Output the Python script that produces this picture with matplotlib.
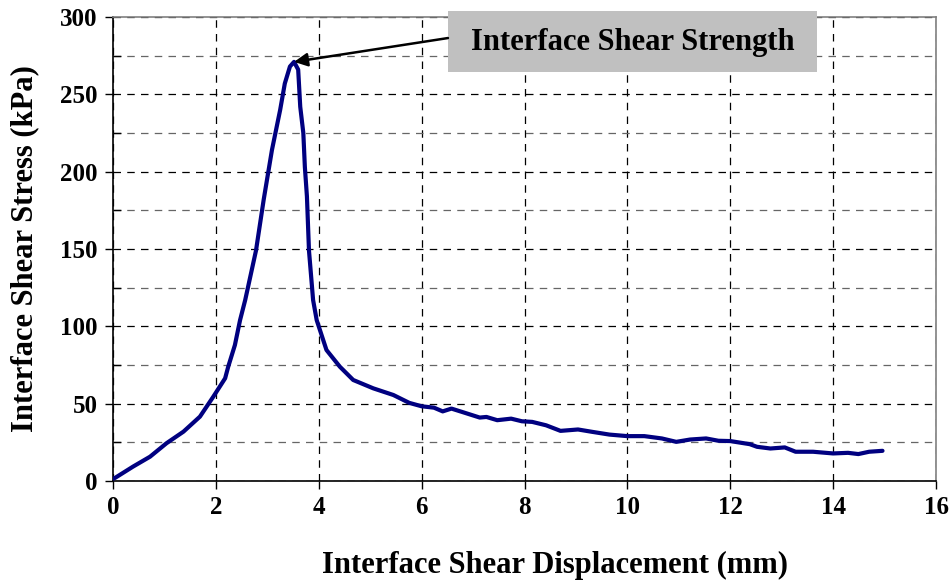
import numpy as np
import matplotlib.pyplot as plt
from matplotlib.patches import Rectangle
from matplotlib.ticker import MultipleLocator

# interface shear test: displacement (mm) vs shear stress (kPa)
disp = [0.0, 0.04, 0.39, 0.72, 1.04, 1.37, 1.69, 1.95, 2.18, 2.24, 2.37,
        2.47, 2.57, 2.78, 2.93, 3.09, 3.25, 3.34, 3.44, 3.52, 3.60, 3.64,
        3.70, 3.73, 3.77, 3.81, 3.89, 3.96, 4.15, 4.41, 4.67, 5.06, 5.45,
        5.76, 6.0, 6.24, 6.41, 6.58, 6.79, 7.13, 7.26, 7.47, 7.74, 7.95,
        8.15, 8.42, 8.70, 9.04, 9.31, 9.65, 10.0, 10.33, 10.67, 10.95,
        11.22, 11.53, 11.77, 12.0, 12.38, 12.52, 12.78, 13.06, 13.27,
        13.61, 14.0, 14.29, 14.49, 14.7, 14.96]
stress = [1.5, 2, 9.3, 15.7, 24.4, 31.9, 41.6, 54.5, 66.4, 73.9, 87.9,
          104, 117, 149, 182, 214, 240, 257, 268, 271, 266, 242,
          225, 203, 184, 149, 117, 104, 84.7, 73.9, 65.3, 59.9, 55.6,
          50.5, 48.3, 47.4, 45, 46.8, 44.6, 41, 41.4, 39.3, 40.3, 38.6,
          38.2, 36, 32.4, 33.3, 31.8, 30, 29, 29, 27.5, 25.3,
          26.8, 27.5, 26, 25.8, 23.8, 22.1, 21, 21.7, 18.9,
          18.9, 17.8, 18.2, 17.4, 18.9, 19.5]
peak_label = "Interface Shear Strength"

plt.rcParams['font.family'] = 'Liberation Serif'
plt.rcParams['font.weight'] = 'bold'
plt.rcParams['axes.labelweight'] = 'bold'

fig = plt.figure(figsize=(9.52, 5.83), dpi=100)
ax = fig.add_axes([0.1187, 0.175, 0.8645, 0.7958])

ax.plot(disp, stress, color='#000080', lw=3, solid_capstyle='round', zorder=3)

ax.set_xlim(0, 16)
ax.set_ylim(0, 300)
ax.xaxis.set_major_locator(MultipleLocator(2))
ax.yaxis.set_major_locator(MultipleLocator(50))
ax.yaxis.set_minor_locator(MultipleLocator(25))
ax.tick_params(axis='both', which='major', direction='out', length=6,
               width=1, labelsize=18, pad=5)
ax.tick_params(axis='y', which='minor', direction='in', length=6, width=1)

ax.grid(True, which='major', color='black', ls=(0, (6, 5)), lw=0.9)
ax.grid(True, which='minor', axis='y', color='#666666', ls=(0, (6, 5)), lw=0.9)
ax.set_axisbelow(True)

for side in ('top', 'right'):
    ax.spines[side].set_color('#808080')
    ax.spines[side].set_linewidth(1.2)
ax.spines['left'].set_linewidth(1.2)
ax.spines['bottom'].set_linewidth(1.2)

ax.set_xlabel('Interface Shear Displacement (mm)', fontsize=22)
ax.set_ylabel('Interface Shear Stress (kPa)', fontsize=22)
ax.xaxis.set_label_coords(0.537, -0.151)
ax.yaxis.set_label_coords(-0.090, 0.502)

# grey callout box with an arrow to the peak of the curve
box = Rectangle((0.407, 0.8815), 0.4484, 0.1314, transform=ax.transAxes,
                fc='#C0C0C0', ec='none', clip_on=False, zorder=5)
ax.add_patch(box)
ax.text(0.6312, 0.946, peak_label, transform=ax.transAxes, ha='center',
        va='center', fontsize=22, fontweight='bold', zorder=6)
i_peak = int(np.argmax(stress))
ax.annotate('', xy=(disp[i_peak], stress[i_peak]), xytext=(0.407, 0.9547),
            textcoords='axes fraction',
            arrowprops=dict(arrowstyle='-|>', color='black', lw=1.8,
                            mutation_scale=20, shrinkA=0, shrinkB=0),
            annotation_clip=False, zorder=5)

fig.savefig('out.png', dpi=100)
